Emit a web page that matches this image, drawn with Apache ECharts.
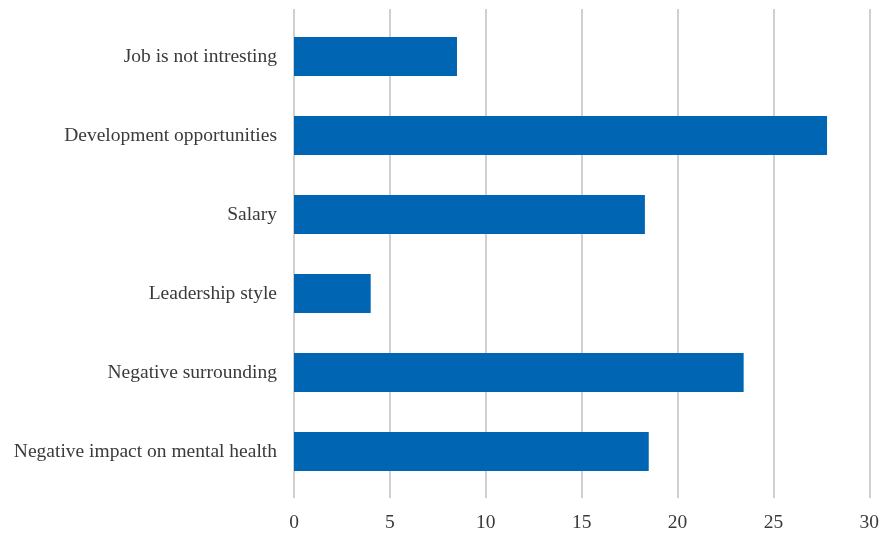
<!DOCTYPE html>
<html>
<head>
<meta charset="utf-8">
<script src="https://cdn.jsdelivr.net/npm/echarts@6/dist/echarts.min.js"></script>
<style>
  html, body { margin: 0; padding: 0; background: #fff; }
  #chart { width: 882px; height: 534px; }
</style>
</head>
<body>
<div id="chart"></div>
<script>
// categories, top to bottom
const reasons = [
  'Job is not intresting',
  'Development opportunities',
  'Salary',
  'Leadership style',
  'Negative surrounding',
  'Negative impact on mental health'
]
const values = [8.5, 27.8, 18.3, 4, 23.45, 18.5]
const xTicks = [0, 5, 10, 15, 20, 25, 30]

const gridColor = '#d0d0d0'
const textColor = '#3a3a3a'
const fontFamily = '"Liberation Serif", "DejaVu Serif", serif'

const chart = echarts.init(document.getElementById('chart'), null, { renderer: 'canvas' })

chart.setOption({
  animation: false,
  grid: { left: 294, right: 9, top: 17, bottom: 43, containLabel: false },
  xAxis: [{
    type: 'value',
    position: 'bottom',
    min: xTicks[0],
    max: xTicks[xTicks.length - 1],
    interval: xTicks[1] - xTicks[0],
    axisLine: { show: false },
    axisTick: { show: true, length: 7, lineStyle: { color: gridColor, width: 2 } },
    splitLine: { show: true, lineStyle: { color: gridColor, width: 2 } },
    axisLabel: { margin: 22, color: textColor, fontSize: 19.5, fontFamily: fontFamily }
  }, {
    // only for the short gridline stubs above the plot area
    type: 'value',
    position: 'top',
    min: xTicks[0],
    max: xTicks[xTicks.length - 1],
    interval: xTicks[1] - xTicks[0],
    axisLine: { show: false },
    axisTick: { show: true, length: 8, lineStyle: { color: gridColor, width: 2 } },
    splitLine: { show: false },
    axisLabel: { show: false }
  }],
  yAxis: {
    type: 'category',
    data: reasons,
    inverse: true,
    axisLine: { show: false },
    axisTick: { show: false },
    axisLabel: { margin: 17, color: textColor, fontSize: 19.5, fontFamily: fontFamily }
  },
  series: [{
    type: 'bar',
    data: values,
    barWidth: 39,
    itemStyle: { color: '#0066b3' }
  }]
})
</script>
</body>
</html>
